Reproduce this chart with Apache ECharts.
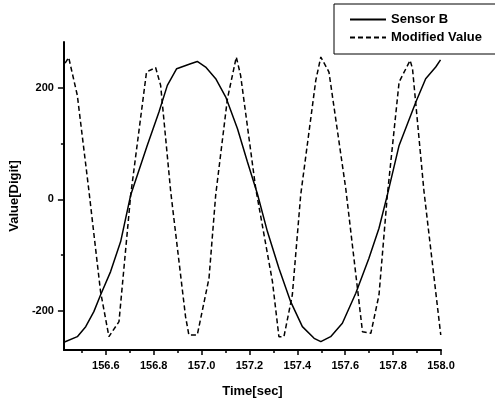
<!DOCTYPE html>
<html>
<head>
<meta charset="utf-8">
<script src="https://cdn.jsdelivr.net/npm/echarts@6/dist/echarts.min.js"></script>
<style>
  body { margin: 0; background: #fff; }
  #chart { width: 495px; height: 403px; }
</style>
</head>
<body>
<div id="chart"></div>
<script>
// Sensor B (solid)
var timeB = [156.425, 156.481, 156.516, 156.550, 156.578, 156.620, 156.662, 156.704, 156.773, 156.822,
  156.857, 156.896, 156.954, 156.982, 157.017, 157.059, 157.101, 157.150, 157.191, 157.233,
  157.275, 157.323, 157.372, 157.421, 157.470, 157.498, 157.539, 157.588, 157.644, 157.699,
  157.741, 157.776, 157.825, 157.895, 157.936, 157.978, 157.998]
var sensorB = [-257, -247, -229, -202, -172, -130, -76, 8, 97, 157,
  205, 235, 244, 248, 238, 217, 184, 127, 68, 10,
  -58, -124, -184, -229, -250, -256, -247, -223, -169, -106,
  -52, 8, 97, 175, 217, 238, 251]

// Modified Value (dashed)
var timeM = [156.430, 156.445, 156.481, 156.529, 156.578, 156.613, 156.655, 156.704, 156.770, 156.808,
  156.829, 156.871, 156.933, 156.947, 156.982, 157.031, 157.059, 157.108, 157.145, 157.163,
  157.226, 157.296, 157.323, 157.344, 157.379, 157.414, 157.477, 157.498, 157.532, 157.602,
  157.651, 157.672, 157.707, 157.741, 157.776, 157.825, 157.871, 157.881, 157.929, 157.999]
var modified = [245, 255, 187, 17, -166, -247, -220, 8, 229, 237,
  205, 14, -211, -244, -244, -142, 8, 181, 256, 223,
  20, -148, -247, -247, -172, 8, 214, 256, 229, 20,
  -160, -238, -241, -172, 8, 211, 250, 235, 14, -244]

// ticks
var xMajor = [156.6, 156.8, 157.0, 157.2, 157.4, 157.6, 157.8, 158.0]
var xMinor = [156.5, 156.7, 156.9, 157.1, 157.3, 157.5, 157.7, 157.9]
var yMajor = [-200, 0, 200]
var yMinor = [-100, 100]

var font = "'Liberation Sans', Arial, sans-serif"
var xMin = 156.425, xMax = 158.0
var yMin = -271, yMax = 283

var chart = echarts.init(document.getElementById('chart'))

var option = {
  animation: false,
  backgroundColor: '#fff',
  grid: { left: 63, right: 54, top: 42, bottom: 53 },
  legend: {
    orient: 'vertical',
    left: 334,
    top: 4,
    padding: [9, 14, 10, 15],
    itemGap: 5,
    itemWidth: 36,
    itemHeight: 14,
    borderColor: '#000',
    borderWidth: 1,
    itemStyle: { opacity: 0 },
    textStyle: { color: '#000', fontFamily: font, fontWeight: 'bold', fontSize: 13 },
    data: ['Sensor B', 'Modified Value']
  },
  xAxis: [
    {
      type: 'value',
      min: xMin,
      max: xMax,
      position: 'bottom',
      name: 'Time[sec]',
      nameLocation: 'middle',
      nameGap: 35,
      nameTextStyle: { color: '#000', fontFamily: font, fontWeight: 'bold', fontSize: 13 },
      axisLine: { onZero: false, lineStyle: { color: '#000', width: 2 } },
      axisTick: { customValues: xMajor, length: 5, lineStyle: { color: '#000', width: 1.5 } },
      axisLabel: {
        customValues: xMajor,
        margin: 10,
        color: '#000',
        fontFamily: font,
        fontWeight: 'bold',
        fontSize: 11,
        formatter: function(v) { return v.toFixed(1) }
      },
      splitLine: { show: false }
    },
    {
      // minor ticks
      type: 'value',
      min: xMin,
      max: xMax,
      position: 'bottom',
      offset: 0,
      axisLine: { show: false, onZero: false },
      axisTick: { customValues: xMinor, length: 3, lineStyle: { color: '#000', width: 1.5 } },
      axisLabel: { show: false },
      splitLine: { show: false }
    }
  ],
  yAxis: [
    {
      type: 'value',
      min: yMin,
      max: yMax,
      position: 'left',
      name: 'Value[Digit]',
      nameLocation: 'middle',
      nameGap: 38,
      nameTextStyle: { color: '#000', fontFamily: font, fontWeight: 'bold', fontSize: 13 },
      axisLine: { show: true, onZero: false, lineStyle: { color: '#000', width: 2 } },
      axisTick: { show: true, customValues: yMajor, length: 6, lineStyle: { color: '#000', width: 1.5 } },
      axisLabel: {
        customValues: yMajor,
        margin: 10,
        color: '#000',
        fontFamily: font,
        fontWeight: 'bold',
        fontSize: 11
      },
      splitLine: { show: false }
    },
    {
      // minor ticks
      type: 'value',
      min: yMin,
      max: yMax,
      position: 'left',
      offset: 0,
      axisLine: { show: false, onZero: false },
      axisTick: { show: true, customValues: yMinor, length: 3, lineStyle: { color: '#000', width: 1.5 } },
      axisLabel: { show: false },
      splitLine: { show: false }
    }
  ],
  series: [
    {
      name: 'Sensor B',
      type: 'line',
      symbol: 'none',
      data: timeB.map(function(t, i) { return [t, sensorB[i]] }),
      lineStyle: { color: '#000', width: 1.5 },
      itemStyle: { color: '#000' }
    },
    {
      name: 'Modified Value',
      type: 'line',
      symbol: 'none',
      data: timeM.map(function(t, i) { return [t, modified[i]] }),
      lineStyle: { color: '#000', width: 1.5, type: [5, 3] },
      itemStyle: { color: '#000' }
    }
  ]
}

chart.setOption(option)
</script>
</body>
</html>
